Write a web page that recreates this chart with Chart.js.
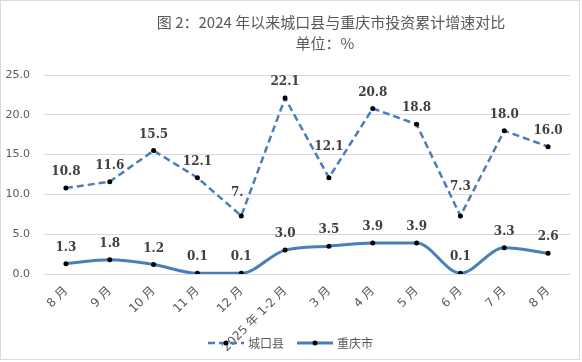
<!DOCTYPE html>
<html><head><meta charset="utf-8">
<script src="https://cdn.jsdelivr.net/npm/chart.js@4/dist/chart.umd.min.js"></script>
<style>html,body{margin:0;padding:0;background:#fff}#wrap{width:582px;height:362px;position:relative}</style>
</head><body><div id="wrap"><canvas id="c" width="582" height="362"></canvas></div>
<script>
const categories = ["8 月","9 月","10 月","11 月","12 月","2025 年 1-2 月","3 月","4 月","5 月","6 月","7 月","8 月"];
const chengkou = [10.8, 11.6, 15.5, 12.1, 7.3, 22.1, 12.1, 20.8, 18.8, 7.3, 18.0, 16.0];
const chongqing = [1.3, 1.8, 1.2, 0.1, 0.1, 3.0, 3.5, 3.9, 3.9, 0.1, 3.3, 2.6];
const chengkouLabels = ["10.8","11.6","15.5","12.1","7.","22.1","12.1","20.8","18.8","7.3","18.0","16.0"];
const chongqingLabels = ["1.3","1.8","1.2","0.1","0.1","3.0","3.5","3.9","3.9","0.1","3.3","2.6"];
const yTicks = [0, 5, 10, 15, 20, 25];
const seriesNames = ["城口县", "重庆市"];
const titleLines = ["图 2：2024 年以来城口县与重庆市投资累计增速对比", "单位：%"];

const BLUE = "#4A7EBB";
const GREY = "#595959";
// label offsets (style only): [dx, dy] above the point
const labelOffsets = [
  {4: [-4, -23], 6: [0, -31], 9: [0, -29]},
  {}
];

const labelPlugin = {
  id: 'labels',
  afterDatasetsDraw(chart) {
    const ctx = chart.ctx;
    ctx.save();
    ctx.font = "bold 12px 'DejaVu Serif'";
    ctx.fillStyle = "#404040";
    ctx.textAlign = "center";
    ctx.textBaseline = "middle";
    const texts = [chengkouLabels, chongqingLabels];
    chart.data.datasets.forEach((ds, di) => {
      const meta = chart.getDatasetMeta(di);
      meta.data.forEach((pt, i) => {
        const off = labelOffsets[di][i] || [0, -16];
        ctx.fillText(texts[di][i], pt.x + off[0], pt.y + off[1]);
      });
    });
    ctx.restore();
  }
};

const decorPlugin = {
  id: 'decor',
  beforeDraw(chart) {
    const ctx = chart.ctx;
    ctx.save();
    ctx.fillStyle = "#fff";
    ctx.fillRect(0, 0, chart.width, chart.height);
    ctx.strokeStyle = "#d9d9d9";
    ctx.lineWidth = 1;
    ctx.strokeRect(0.5, 0.5, 579, 359);
    ctx.restore();
  },
  afterDraw(chart) {
    const ctx = chart.ctx;
    ctx.save();
    ctx.fillStyle = GREY;
    ctx.textAlign = "center";
    ctx.textBaseline = "middle";
    ctx.font = "15px 'Noto Sans CJK SC'";
    ctx.fillText(titleLines[0], 331, 22);
    ctx.fillText(titleLines[1], 325, 43);
    const y = 343;
    ctx.strokeStyle = BLUE;
    ctx.lineWidth = 2.5;
    ctx.setLineDash([7, 4]);
    ctx.beginPath(); ctx.moveTo(208, y); ctx.lineTo(244, y); ctx.stroke();
    ctx.setLineDash([]);
    ctx.lineWidth = 3;
    ctx.beginPath(); ctx.moveTo(297, y); ctx.lineTo(333, y); ctx.stroke();
    ctx.fillStyle = "#000";
    ctx.beginPath(); ctx.arc(226, y, 2.5, 0, Math.PI * 2); ctx.fill();
    ctx.beginPath(); ctx.arc(315, y, 2.5, 0, Math.PI * 2); ctx.fill();
    ctx.fillStyle = GREY;
    ctx.textAlign = "left";
    ctx.font = "12px 'Noto Sans CJK SC'";
    ctx.fillText(seriesNames[0], 248, y);
    ctx.fillText(seriesNames[1], 337, y);
    ctx.restore();
  }
};

new Chart(document.getElementById('c'), {
  type: 'line',
  data: {
    labels: categories,
    datasets: [
      {
        label: seriesNames[0], data: chengkou,
        borderColor: BLUE, borderWidth: 2.5, borderDash: [7, 4],
        pointRadius: 2.5, pointBackgroundColor: "#000", pointBorderColor: "#000", pointBorderWidth: 0,
        tension: 0, fill: false
      },
      {
        label: seriesNames[1], data: chongqing,
        borderColor: BLUE, borderWidth: 3,
        pointRadius: 2.5, pointBackgroundColor: "#000", pointBorderColor: "#000", pointBorderWidth: 0,
        cubicInterpolationMode: 'monotone', fill: false
      }
    ]
  },
  options: {
    responsive: false,
    animation: false,
    devicePixelRatio: 1,
    layout: { padding: { top: 75, right: 12, left: 0, bottom: 0 } },
    plugins: { legend: { display: false }, title: { display: false }, tooltip: { enabled: false } },
    scales: {
      x: {
        offset: true,
        grid: { display: false, drawTicks: false },
        border: { display: false },
        ticks: {
          color: GREY, maxRotation: 45, minRotation: 45, autoSkip: false, padding: 10,
          font: { family: "'DejaVu Sans', 'Noto Sans CJK SC'", size: 12 }
        },
        afterFit(s) { s.height = 88; }
      },
      y: {
        min: 0, max: 25,
        afterBuildTicks(s) { s.ticks = yTicks.map(v => ({ value: v })); },
        grid: { color: "#d9d9d9", lineWidth: 1, drawTicks: false },
        border: { display: false },
        ticks: {
          color: GREY, padding: 14,
          font: { family: "'DejaVu Sans'", size: 11 },
          callback: v => Number(v).toFixed(1)
        },
        afterFit(s) { s.width = 44; }
      }
    }
  },
  plugins: [decorPlugin, labelPlugin]
});
</script>
</body></html>
